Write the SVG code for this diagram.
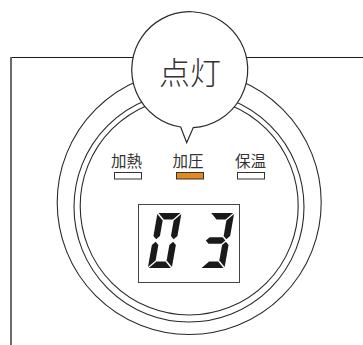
<svg xmlns="http://www.w3.org/2000/svg" width="363" height="345" viewBox="0 0 363 345">
<style>
  .ring { fill: none; stroke: #2a2a2a; stroke-width: 1.1; }
  .lbl { font-family: "Noto Sans CJK JP", "Noto Sans", sans-serif; font-size: 15.5px; fill: #333; text-anchor: middle; }
  .big { font-family: "Noto Sans CJK JP", "Noto Sans", sans-serif; font-size: 31px; font-weight: 300; fill: #333; text-anchor: middle; }
  .led { fill: #fff; stroke: #333; stroke-width: 1; }
  .led.on { fill: #E38A1E; }
  .seg { fill: #1a1a1a; }
</style>
<defs>
  <polygon id="sa" points="1,-55 23,-55 16.5,-48.5 7.5,-48.5"/>
  <polygon id="sb" points="24,-54 17.5,-47.5 17.5,-32 20.75,-28.75 24,-32"/>
  <polygon id="sc" points="20.75,-26.25 24,-23 24,-1 17.5,-7.5 17.5,-23"/>
  <polygon id="sd" points="1,0 23,0 16.5,-6.5 7.5,-6.5"/>
  <polygon id="se" points="3.25,-26.25 6.5,-23 6.5,-7.5 0,-1 0,-23"/>
  <polygon id="sf" points="0,-54 6.5,-47.5 6.5,-32 3.25,-28.75 0,-32"/>
  <polygon id="sg" points="0.5,-27.5 3.75,-30.75 16.75,-30.75 20,-27.5 16.75,-24.25 3.75,-24.25"/>
</defs>
<rect width="363" height="345" fill="#fff"/>
<g id="frame">
  <line x1="10" y1="57.5" x2="363" y2="57.5" stroke="#1a1a1a" stroke-width="1.2"/>
  <line x1="11" y1="57" x2="11" y2="345" stroke="#6a6a6a" stroke-width="2"/>
</g>
<g id="dial">
  <circle class="ring" cx="189.2" cy="202.5" r="132"/>
  <circle class="ring" cx="189" cy="207" r="115"/>
  <circle class="ring" cx="189.2" cy="206" r="109"/>
</g>
<g id="bubble">
  <path d="M193.3,127.6 A58,58 0 1 0 180.7,127 L186.7,142.7 Z" fill="#fff" stroke="#2a2a2a" stroke-width="1.2" stroke-linejoin="miter"/>
  <text class="big" x="190" y="84">点灯</text>
</g>
<g id="lamp-heat">
  <text class="lbl" x="126.5" y="167">加熱</text>
  <rect class="led" x="114.5" y="172.5" width="27" height="6.5"/>
</g>
<g id="lamp-pressure">
  <text class="lbl" x="188" y="167">加圧</text>
  <rect class="led on" x="176.5" y="172.5" width="27" height="6.5"/>
</g>
<g id="lamp-warm">
  <text class="lbl" x="250.5" y="167">保温</text>
  <rect class="led" x="237.5" y="172.5" width="27" height="6.5"/>
</g>
<g id="display">
  <rect x="138.5" y="204.5" width="101" height="78" fill="#fff" stroke="#444" stroke-width="1"/>
  <g class="seg" transform="translate(147.8,268) skewX(-10)">
    <use href="#sa"/><use href="#sb"/><use href="#sc"/><use href="#sd"/><use href="#se"/><use href="#sf"/>
  </g>
  <g class="seg" transform="translate(200.5,268) skewX(-10)">
    <use href="#sa"/><use href="#sb"/><use href="#sc"/><use href="#sd"/><use href="#sg"/>
  </g>
</g>
<g id="connectors"></g>
</svg>
